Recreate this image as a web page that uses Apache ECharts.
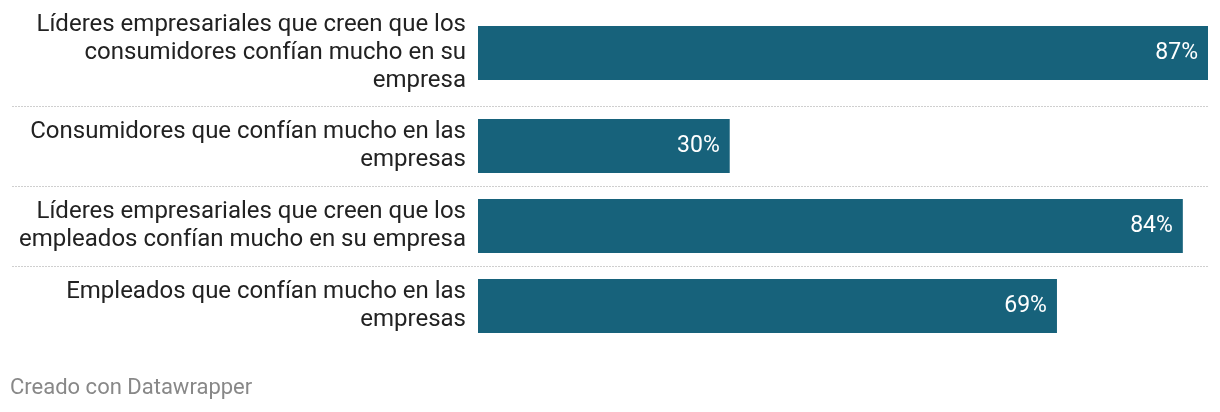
<!DOCTYPE html>
<html>
<head>
<meta charset="utf-8">
<script src="https://cdn.jsdelivr.net/npm/echarts@6/dist/echarts.min.js"></script>
<style>
html,body{margin:0;padding:0;background:#fff;}
#chart{width:1220px;height:412px;}
</style>
</head>
<body>
<div id="chart"></div>
<script>
const categories = [
  "Líderes empresariales que creen que los consumidores confían mucho en su empresa",
  "Consumidores que confían mucho en las empresas",
  "Líderes empresariales que creen que los empleados confían mucho en su empresa",
  "Empleados que confían mucho en las empresas"
];
const values = [87, 30, 84, 69];
const footerText = "Creado con Datawrapper";

const barColor = "#17627b";
const rows = [
  {top: 0, height: 106},
  {top: 106, height: 80},
  {top: 186, height: 80},
  {top: 266, height: 80}
];
const maxVal = Math.max.apply(null, values);
const font = "Roboto, 'Liberation Sans', sans-serif";
const labelSize = 24;
const labelWidth = 456;

const ctx = document.createElement('canvas').getContext('2d');
ctx.font = labelSize + 'px Roboto';
function wrap(text) {
  const words = text.split(' ');
  const lines = [];
  let cur = '';
  words.forEach(function (w) {
    const test = cur ? cur + ' ' + w : w;
    if (cur && ctx.measureText(test).width > labelWidth) {
      lines.push(cur);
      cur = w;
    } else {
      cur = test;
    }
  });
  if (cur) lines.push(cur);
  return lines.join('\n');
}

const grid = [], xAxis = [], yAxis = [], series = [];
categories.forEach(function (cat, i) {
  grid.push({left: 478, right: 12, top: rows[i].top, height: rows[i].height, containLabel: false});
  xAxis.push({type: 'value', gridIndex: i, min: 0, max: maxVal, show: false});
  yAxis.push({
    type: 'category', gridIndex: i, data: [cat],
    axisLine: {show: false}, axisTick: {show: false}, splitLine: {show: false},
    axisLabel: {
      margin: 12, fontSize: labelSize, lineHeight: 28, color: '#222', fontFamily: font,
      align: 'right', formatter: wrap
    }
  });
  series.push({
    type: 'bar', xAxisIndex: i, yAxisIndex: i, data: [values[i]],
    barWidth: 54, itemStyle: {color: barColor},
    label: {
      show: true, position: 'insideRight', distance: 10,
      formatter: '{c}%', color: '#fff', fontSize: 23, fontFamily: font
    },
    silent: true, animation: false
  });
});

const graphics = [106.5, 186.5, 266.5].map(function (y) {
  return {
    type: 'line', shape: {x1: 12, y1: y, x2: 1208, y2: y},
    style: {stroke: '#cfcfcf', lineWidth: 1, lineDash: [2, 1]}, silent: true
  };
});

const chart = echarts.init(document.getElementById('chart'), null, {renderer: 'canvas'});
chart.setOption({
  animation: false,
  backgroundColor: '#fff',
  title: {
    text: footerText, left: 10, top: 377, padding: 0,
    textStyle: {fontSize: 22, fontWeight: 'normal', color: '#888', fontFamily: font}
  },
  grid: grid, xAxis: xAxis, yAxis: yAxis, series: series,
  graphic: graphics
});
</script>
</body>
</html>
